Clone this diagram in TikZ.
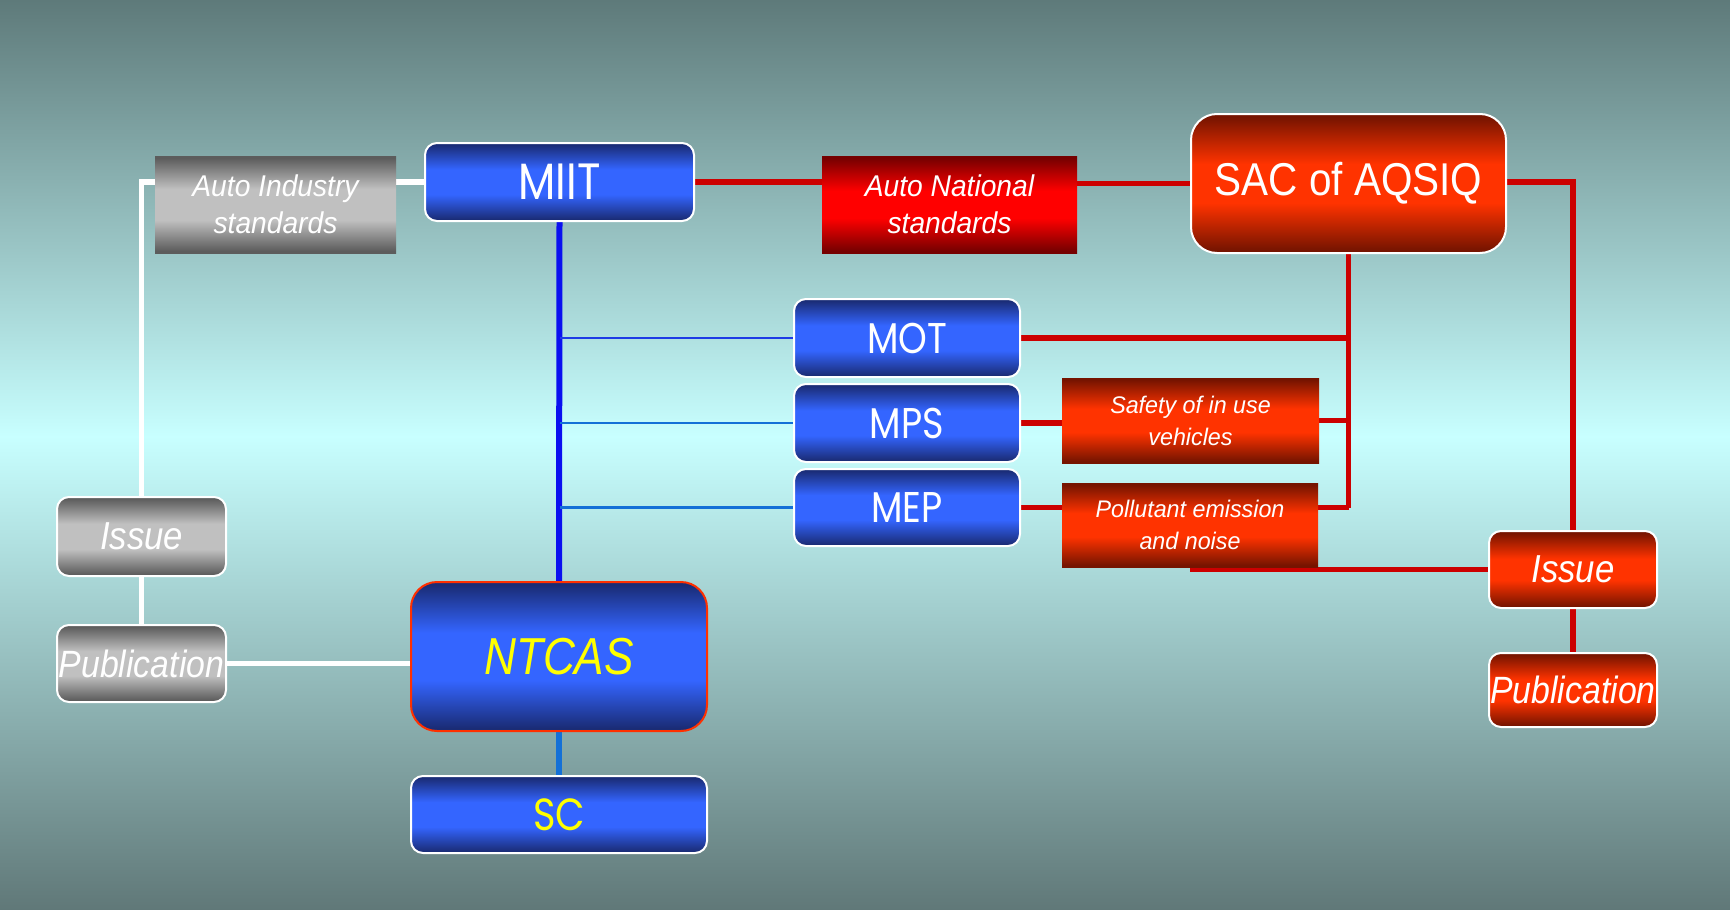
\documentclass[tikz,border=0pt]{standalone}
\usepackage{fontspec}
\setmainfont{Liberation Sans}
\newfontfamily\geo{Poppins}[FakeStretch=0.85]
\newfontfamily\lsAuto{Liberation Sans}[FakeStretch=0.94]
\newfontfamily\lsSmall{Liberation Sans}[FakeStretch=0.97]
\newfontfamily\lsIssue{Liberation Sans}[FakeStretch=0.89]
\newfontfamily\lsSac{Liberation Sans}[FakeStretch=0.88]
\newfontfamily\lsNt{Liberation Sans}[FakeStretch=0.85]
\pgfdeclarelayer{bg}
\pgfdeclarelayer{lines}
\pgfsetlayers{bg,lines,main}
\definecolor{bgTop}{RGB}{94,122,122}
\definecolor{bgMid}{RGB}{200,255,255}
\definecolor{bgBot}{RGB}{96,120,120}
\definecolor{bnavy}{RGB}{26,44,118}
\definecolor{bbright}{RGB}{52,101,255}
\definecolor{gdark}{RGB}{92,92,92}
\definecolor{glight}{RGB}{192,192,192}
\definecolor{rdark}{RGB}{118,0,0}
\definecolor{rbright}{RGB}{255,0,0}
\definecolor{odark}{RGB}{118,20,0}
\definecolor{obright}{RGB}{255,51,0}
\definecolor{lred}{RGB}{204,0,0}
\definecolor{lblue}{RGB}{10,16,240}
\definecolor{lblueA}{RGB}{30,60,230}
\definecolor{lblueB}{RGB}{20,112,215}
\definecolor{ntborder}{RGB}{255,48,0}
\definecolor{ytext}{RGB}{255,255,0}
\pgfdeclareverticalshading{bluesh}{100bp}{color(0bp)=(bnavy); color(26bp)=(bnavy); color(42bp)=(bbright); color(58bp)=(bbright); color(74bp)=(bnavy); color(100bp)=(bnavy)}
\pgfdeclareverticalshading{graysh}{100bp}{color(0bp)=(gdark); color(26bp)=(gdark); color(42bp)=(glight); color(58bp)=(glight); color(74bp)=(gdark); color(100bp)=(gdark)}
\pgfdeclareverticalshading{redsh}{100bp}{color(0bp)=(rdark); color(26bp)=(rdark); color(43bp)=(rbright); color(57bp)=(rbright); color(74bp)=(rdark); color(100bp)=(rdark)}
\pgfdeclareverticalshading{orangesh}{100bp}{color(0bp)=(odark); color(26bp)=(odark); color(43bp)=(obright); color(57bp)=(obright); color(74bp)=(odark); color(100bp)=(odark)}
\tikzset{
  box/.style={inner sep=0pt, align=center, text=white, shade},
  bluebox/.style={box, rounded corners=12pt, draw=white, line width=2pt, shading=bluesh},
  graybox/.style={box, rounded corners=12pt, draw=white, line width=2pt, shading=graysh},
  orangebox/.style={box, rounded corners=12pt, draw=white, line width=2pt, shading=orangesh},
  grayrect/.style={box, shading=graysh},
  redrect/.style={box, shading=redsh},
  orangerect/.style={box, shading=orangesh},
  wline/.style={draw=white, line width=5.5pt},
  rline/.style={draw=lred, line width=5.5pt},
  bthick/.style={draw=lblue, line width=6pt},
  bthin/.style={line width=2.5pt},
}
\begin{document}
\begin{tikzpicture}[x=1pt,y=-1pt]
\useasboundingbox (0,0) rectangle (1730,910);
\begin{pgfonlayer}{bg}
\shade[top color=bgTop,bottom color=bgMid] (0,0) rectangle (1730,437);
\shade[top color=bgMid,bottom color=bgBot] (0,436) rectangle (1730,910);
\end{pgfonlayer}

% nodes
\node[grayrect, minimum width=241pt, minimum height=97pt, font=\lsAuto\itshape\fontsize{30}{37}\selectfont] (autoInd) at (275.5,204.5) {Auto Industry\\standards};
\node[bluebox, minimum width=269pt, minimum height=78pt, font=\geo\fontsize{51}{51}\selectfont] (miit) at (559.5,182) {MIIT};
\node[redrect, minimum width=255pt, minimum height=97pt, font=\lsAuto\itshape\fontsize{30}{37}\selectfont] (autoNat) at (949.5,204.5) {Auto National\\standards};
\node[orangebox, rounded corners=26pt, minimum width=315pt, minimum height=139pt, font=\lsSac\fontsize{46}{46}\selectfont] (sac) at (1348.5,183.5) {SAC of AQSIQ};
\node[bluebox, minimum width=226pt, minimum height=78pt, font=\geo\fontsize{43}{43}\selectfont] (mot) at (907,338) {MOT};
\node[bluebox, minimum width=226pt, minimum height=78pt, font=\geo\fontsize{43}{43}\selectfont] (mps) at (907,423) {MPS};
\node[bluebox, minimum width=226pt, minimum height=77pt, font=\geo\fontsize{43}{43}\selectfont] (mep) at (907,507.5) {MEP};
\node[orangerect, minimum width=257pt, minimum height=85pt, font=\lsSmall\itshape\fontsize{24}{32}\selectfont] (safety) at (1190.5,420.5) {Safety of in use\\vehicles};
\node[orangerect, minimum width=256pt, minimum height=84pt, font=\lsSmall\itshape\fontsize{24}{32}\selectfont] (poll) at (1190,525) {Pollutant emission\\and noise};
\node[graybox, minimum width=169pt, minimum height=79pt, font=\lsIssue\itshape\fontsize{39}{39}\selectfont] (issueL) at (141.5,536.5) {Issue};
\node[graybox, minimum width=169pt, minimum height=77pt, font=\lsIssue\itshape\fontsize{38}{38}\selectfont] (pubL) at (141.5,663.5) {Publication};
\node[bluebox, draw=ntborder, rounded corners=26pt, minimum width=296pt, minimum height=149pt, text=ytext, font=\lsNt\itshape\fontsize{52}{52}\selectfont] (ntcas) at (559,656.5) {NTCAS};
\node[bluebox, minimum width=296pt, minimum height=77pt, text=ytext, font=\geo\fontsize{45}{45}\selectfont] (sc) at (559,814.5) {SC};
\node[orangebox, minimum width=168pt, minimum height=77pt, font=\lsIssue\itshape\fontsize{39}{39}\selectfont] (issueR) at (1573,569.5) {Issue};
\node[orangebox, minimum width=168pt, minimum height=74pt, font=\lsIssue\itshape\fontsize{38}{38}\selectfont] (pubR) at (1573,690) {Publication};

% connectors
\begin{pgfonlayer}{lines}
\path[wline] (miit.west) -- (miit.west -| autoInd.east);
\path[wline] (autoInd.west |- miit.west) -| (issueL.north);
\path[wline] (issueL.south) -- (pubL.north);
\path[wline] (pubL.east) -- (pubL.east -| ntcas.west);
\path[rline] (miit.east) -- (miit.east -| autoNat.west);
\path[rline] (autoNat.east |- sac.west) -- (sac.west);
\path[rline] (sac.east |- miit.east) -| (issueR.north);
\path[rline] (sac.south) -- (sac.south |- mep.east);
\path[rline] (mot.east) -- (mot.east -| sac.south);
\path[rline] (mps.east) -- (mps.east -| safety.west);
\path[rline] (safety.east) -- (safety.east -| sac.south);
\path[rline] (mep.east) -- (mep.east -| poll.west);
\path[rline] (mep.east -| poll.east) -- (mep.east -| sac.south);
\path[rline] (issueR.west -| poll.south) -- (issueR.west);
\path[rline] (issueR.south) -- (pubR.north);
\path[bthick] (miit.south) -- (ntcas.north);
\path[bthick, draw=lblueB] (ntcas.south) -- (sc.north);
\path[bthin, draw=lblueA] (mot.west -| miit.south) -- (mot.west);
\path[bthin, draw=lblueB] (mps.west -| miit.south) -- (mps.west);
\path[bthin, draw=lblueB] (mep.west -| miit.south) -- (mep.west);
\end{pgfonlayer}
\end{tikzpicture}
\end{document}
